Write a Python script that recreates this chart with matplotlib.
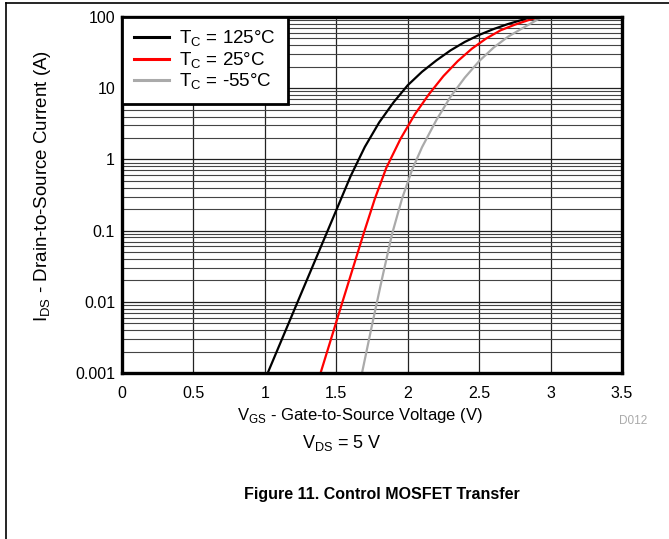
import matplotlib
matplotlib.use('Agg')
import matplotlib.pyplot as plt
from matplotlib.ticker import FixedLocator, FixedFormatter, LogLocator, NullFormatter

plt.rcParams['font.family'] = ['Liberation Sans', 'DejaVu Sans']

# transfer curves (V_GS in V, I_DS in A)
vgs_125 = [1.02, 1.25, 1.44, 1.60, 1.70, 1.80, 1.90, 2.00, 2.10, 2.20, 2.30, 2.40,
           2.50, 2.60, 2.70, 2.80, 2.86]
ids_125 = [0.001, 0.0125, 0.1, 0.58, 1.5, 3.3, 6.3, 11.0, 17, 24.5, 34, 44.7,
           56, 67.6, 79.4, 91, 100]

vgs_25 = [1.39, 1.54, 1.69, 1.77, 1.85, 1.95, 2.05, 2.15, 2.25, 2.35, 2.45,
          2.55, 2.65, 2.75, 2.85, 2.92]
ids_25 = [0.001, 0.0095, 0.089, 0.28, 0.76, 1.95, 4.3, 8.3, 14.8, 24, 36,
          50, 65, 78, 91, 100]

vgs_m55 = [1.68, 1.75, 1.82, 1.89, 1.96, 2.03, 2.10, 2.20, 2.30, 2.40, 2.50,
           2.60, 2.70, 2.80, 2.94]
ids_m55 = [0.001, 0.0047, 0.021, 0.089, 0.28, 0.71, 1.48, 3.55, 7.6, 14.1, 24,
           37, 52.5, 69, 100]

labels = ['T$_\\mathregular{C}$ = 125°C', 'T$_\\mathregular{C}$ = 25°C', 'T$_\\mathregular{C}$ = -55°C']
colors = ['black', '#ff0000', '#aaaaaa']

xticks = [0, 0.5, 1, 1.5, 2, 2.5, 3, 3.5]
xticklabels = ['0', '0.5', '1', '1.5', '2', '2.5', '3', '3.5']
yticks = [0.001, 0.01, 0.1, 1, 10, 100]
yticklabels = ['0.001', '0.01', '0.1', '1', '10', '100']

fig = plt.figure(figsize=(6.69, 5.39), dpi=100)
ax = fig.add_axes([122/669, 1 - 373/539, 500/669, 356/539])

for v, i, c, lab in zip([vgs_125, vgs_25, vgs_m55], [ids_125, ids_25, ids_m55], colors, labels):
    ax.plot(v, i, color=c, lw=1.6, label=lab, zorder=3)

ax.set_yscale('log')
ax.set_xlim(0, 3.5)
ax.set_ylim(0.001, 100)
ax.xaxis.set_major_locator(FixedLocator(xticks))
ax.xaxis.set_major_formatter(FixedFormatter(xticklabels))
ax.yaxis.set_major_locator(FixedLocator(yticks))
ax.yaxis.set_major_formatter(FixedFormatter(yticklabels))
ax.yaxis.set_minor_locator(LogLocator(base=10, subs=range(2, 10)))
ax.yaxis.set_minor_formatter(NullFormatter())
ax.tick_params(which='both', length=0, labelsize=11.5)
ax.tick_params(axis='x', pad=9)
ax.tick_params(axis='y', pad=5)
ax.grid(True, which='major', color='#222222', lw=0.9)
ax.grid(True, which='minor', axis='y', color='#444444', lw=0.8)
for s in ax.spines.values():
    s.set_linewidth(2.4)
    s.set_zorder(4)

ax.set_xlabel('V$_\\mathregular{GS}$ - Gate-to-Source Voltage (V)', fontsize=12)
ax.set_ylabel('I$_\\mathregular{DS}$ - Drain-to-Source Current (A)', fontsize=13.5)
ax.xaxis.set_label_coords(0.476, -0.093)
ax.yaxis.set_label_coords(-0.138, 0.525)

leg = ax.legend(loc='upper left', fontsize=13.5, frameon=True, fancybox=False,
                borderaxespad=0, handlelength=1.87, handletextpad=0.53,
                borderpad=0.64, labelspacing=0.05, framealpha=1)
leg.get_frame().set_edgecolor('black')
leg.get_frame().set_linewidth(2)
for h in leg.get_lines():
    h.set_linewidth(2.2)

fig.text(633/669, 1 - 421/539, 'D012', color='#aaaaaa', fontsize=8.5, ha='center', va='center')
fig.text(342/669, 1 - 443/539, 'V$_\\mathregular{DS}$ = 5 V', fontsize=13, ha='center', va='center')
fig.text(382/669, 1 - 495/539, 'Figure 11. Control MOSFET Transfer', fontsize=11.5,
         fontweight='bold', ha='center', va='center')

# page frame lines
fig.add_artist(plt.Line2D([6/669, 1], [1 - 3/539, 1 - 3/539], color='black', lw=1.2))
fig.add_artist(plt.Line2D([6/669, 6/669], [0, 1 - 3/539], color='black', lw=1.2))

fig.savefig('out.png', dpi=100)
